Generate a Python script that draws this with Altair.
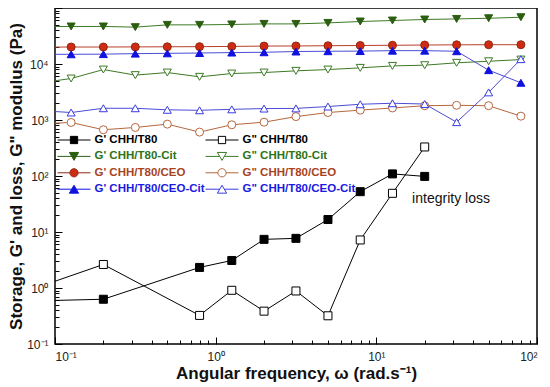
import altair as alt
import pandas as pd

# ---- data ----
freq = [0.0794, 0.126, 0.2, 0.316, 0.5, 0.794, 1.26, 2.0, 3.16, 5.0, 7.94, 12.6, 20.0, 31.6, 50.0, 79.4]

series_names = ["G' CHH/T80", 'G" CHH/T80', "G' CHH/T80-Cit", 'G" CHH/T80-Cit',
                "G' CHH/T80/CEO", 'G" CHH/T80/CEO', "G' CHH/T80/CEO-Cit", 'G" CHH/T80/CEO-Cit']

g1_t80 = [0.59, None, 0.63, None, None, 2.33, 3.10, 7.39, 7.70, 16.7, 52.5, 109, 98.4, None, None, None]
g2_t80 = [1.05, None, 2.63, None, None, 0.324, 0.91, 0.386, 0.885, 0.319, 7.21, 49.1, 330, None, None, None]
g1_cit = [46800, 46800, 46800, 45500, 50000, 50000, 50800, 52000, 52000, 54200, 57400, 59800, 62300, 63800, 65600, 68400]
g2_cit = [4560, 5510, 7960, 6330, 7040, 5900, 6760, 7040, 7550, 7960, 8530, 9250, 9520, 10500, 11200, 12000]
g1_ceo = [20000, 20100, 20100, 20200, 20300, 20400, 20600, 20900, 21000, 21200, 21400, 21600, 21800, 22000, 22100, 22100]
g2_ceo = [851, 903, 670, 736, 843, 608, 822, 914, 1150, 1360, 1500, 1640, 1800, 1830, 1800, 1170]
g1_ceocit = [14900, 14900, 15000, 15300, 15500, 15700, 16000, 16200, 16700, 16900, 17000, 17300, 17300, 16900, 7760, 4620]
g2_ceocit = [1475, 1360, 1620, 1620, 1520, 1490, 1550, 1600, 1610, 1740, 1910, 1990, 1930, 914, 3110, 12200]

all_series = [g1_t80, g2_t80, g1_cit, g2_cit, g1_ceo, g2_ceo, g1_ceocit, g2_ceocit]

x_major = [0.1, 1, 10, 100]
y_major = [0.1, 1, 10, 100, 1000, 10000]

annot_x = [16.7]
annot_y = [39]
annot_text = ["integrity loss"]

# ---- styles ----
line_colors = ["#000000", "#000000", "#3C7A24", "#3C7A24", "#B8402A", "#B5673E", "#4B4BD6", "#4B4BD6"]
pt_stroke = ["#000000", "#000000", "#2C5E10", "#3C7A24", "#8E2A14", "#B5673E", "#1010E0", "#3A3AE0"]
pt_fill = ["#000000", "#FFFFFF", "#2C5E10", "#FFFFFF", "#D12A12", "#FFFFFF", "#1010E0", "#FFFFFF"]
pt_shape = ["square", "square", "triangle-down", "triangle-down", "circle", "circle", "triangle-up", "triangle-up"]
pt_size = [64, 64, 100, 100, 81, 81, 100, 100]

sq = "M-1,0 H-0.22 M0.22,0 H1 M-0.22,-0.22 H0.22 V0.22 H-0.22 Z"
ci = "M-1,0 H-0.25 M0.25,0 H1 M-0.25,0 A0.25,0.25,0,1,0,0.25,0 A0.25,0.25,0,1,0,-0.25,0 Z"
td = "M-1,0 H-0.14 M0.14,0 H1 M-0.28,-0.24 H0.28 L0,0.24 Z"
tu = "M-1,0 H-0.14 M0.14,0 H1 M-0.28,0.24 H0.28 L0,-0.24 Z"
leg_shape = [sq, sq, td, td, ci, ci, tu, tu]

rows = []
for name, vals in zip(series_names, all_series):
    for f, v in zip(freq, vals):
        if v is not None:
            rows.append({"series": name, "freq": f, "mod": v})
df = pd.DataFrame(rows)
leg_df = pd.DataFrame({"series": series_names})
ann_df = pd.DataFrame({"freq": annot_x, "mod": annot_y, "label": annot_text})

# legend fills columns first: G' entries in column 1, G" entries in column 2
leg_idx = [0, 2, 4, 6, 1, 3, 5, 7]
leg_order = [series_names[i] for i in leg_idx]
leg_shape_o = [leg_shape[i] for i in leg_idx]
leg_fill_o = [pt_fill[i] for i in leg_idx]
leg_stroke_o = [pt_stroke[i] for i in leg_idx]

sup = {-1: "⁻¹", 0: "⁰", 1: "¹", 2: "²", 3: "³", 4: "⁴", 5: "⁵"}
expo = "round(log(datum.value)/LN10)"
label_expr = ""
for k, s in sup.items():
    label_expr += f"{expo} == {k} ? '10{s}' : "
label_expr += "''"

is_major = f"abs(log(datum.value)/LN10 - {expo}) < 0.01"

x_ticks = [m * d for d in [0.1, 1, 10] for m in range(1, 10)] + [100]
y_ticks = [m * d for d in [0.1, 1, 10, 100, 1000, 10000] for m in range(1, 10)] + [100000]

FONT = "Liberation Sans"
xscale = alt.Scale(type="log", domain=[0.1, 100])
yscale = alt.Scale(type="log", domain=[0.1, 100000])

x_main = alt.Axis(orient="bottom", values=x_major, labelExpr=label_expr, ticks=False, tickSize=0,
                  domain=False, grid=False, labelPadding=7, labelFont=FONT, labelFontSize=12,
                  labelColor="#222", title="Angular frequency, ω (rad.s⁻¹)", titleFont=FONT,
                  titleFontSize=17, titleFontWeight="bold", titlePadding=3, titleColor="#111")
y_main = alt.Axis(orient="left", values=y_major, labelExpr=label_expr, ticks=False, tickSize=0,
                  domain=False, grid=False, labelPadding=7, labelFont=FONT, labelFontSize=12,
                  labelColor="#222", title='Storage, G\' and loss, G" modulus (Pa)', titleFont=FONT,
                  titleFontSize=17, titleFontWeight="bold", titlePadding=1, titleColor="#111")
x_ticks_ax = alt.Axis(orient="top", offset=-336, values=x_ticks, labels=False, domain=False, grid=False,
                      tickColor="#000", tickWidth=1,
                      tickSize={"condition": {"test": is_major, "value": 7}, "value": 4}, title=None)
y_ticks_ax = alt.Axis(orient="right", offset=-482, values=y_ticks, labels=False, domain=False, grid=False,
                      tickColor="#000", tickWidth=1,
                      tickSize={"condition": {"test": is_major, "value": 7}, "value": 4}, title=None)

lines = alt.Chart(df).mark_line(strokeWidth=1, clip=True).encode(
    x=alt.X("freq:Q", scale=xscale, axis=x_main),
    y=alt.Y("mod:Q", scale=yscale, axis=y_main),
    color=alt.Color("series:N", scale=alt.Scale(domain=series_names, range=line_colors), legend=None),
)

points = alt.Chart(df).mark_point(strokeWidth=1, opacity=1, clip=True).encode(
    x=alt.X("freq:Q", scale=xscale, axis=x_ticks_ax),
    y=alt.Y("mod:Q", scale=yscale, axis=y_ticks_ax),
    shape=alt.Shape("series:N", scale=alt.Scale(domain=series_names, range=pt_shape), legend=None),
    fill=alt.Fill("series:N", scale=alt.Scale(domain=series_names, range=pt_fill), legend=None),
    stroke=alt.Stroke("series:N", scale=alt.Scale(domain=series_names, range=pt_stroke), legend=None),
    size=alt.Size("series:N", scale=alt.Scale(domain=series_names, range=pt_size), legend=None),
)

annot = alt.Chart(ann_df).mark_text(align="left", baseline="middle", font=FONT, fontSize=14,
                                    color="#111").encode(
    x=alt.X("freq:Q", scale=xscale, axis=None),
    y=alt.Y("mod:Q", scale=yscale, axis=None),
    text="label:N",
)

label_color = ("indexof(datum.label, 'CEO-Cit') >= 0 ? '#1A1AE0' : "
               "indexof(datum.label, 'CEO') >= 0 ? '#A8431E' : "
               "indexof(datum.label, 'Cit') >= 0 ? '#2E7316' : '#000000'")

legend = alt.Legend(orient="none", legendX=2, legendY=124, columns=2, title=None,
                    symbolSize=1089, symbolStrokeWidth=1, clipHeight=16, rowPadding=0.4,
                    columnPadding=0, labelOffset=3.5, labelFont=FONT, labelFontSize=11.5,
                    labelFontWeight="bold", labelColor={"expr": label_color}, labelLimit=0,
                    padding=0)

leg_layer = alt.Chart(leg_df).mark_point(strokeWidth=1, opacity=1, clip=True).encode(
    x=alt.value(-100),
    y=alt.value(-100),
    shape=alt.Shape("series:N", scale=alt.Scale(domain=leg_order, range=leg_shape_o), legend=legend),
    fill=alt.Fill("series:N", scale=alt.Scale(domain=leg_order, range=leg_fill_o), legend=legend),
    stroke=alt.Stroke("series:N", scale=alt.Scale(domain=leg_order, range=leg_stroke_o), legend=legend),
)

chart = alt.layer(lines, points, annot, leg_layer).resolve_scale(
    shape="independent", fill="independent", stroke="independent"
).properties(
    width=482, height=336, autosize="none",
    padding={"left": 47, "top": 0, "right": 5, "bottom": 43},
).configure_view(stroke="#000", strokeWidth=1.5).configure_axis(grid=False)

chart.save("out.html", embed_options={"renderer": "svg", "actions": False})
